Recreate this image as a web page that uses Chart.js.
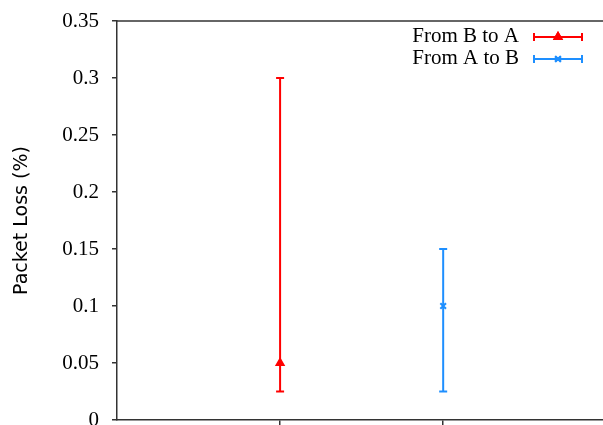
<!DOCTYPE html>
<html>
<head>
<meta charset="utf-8">
<script src="https://cdn.jsdelivr.net/npm/chart.js@4"></script>
<style>
  html, body { margin: 0; padding: 0; background: #fff; overflow: hidden; }
  canvas { display: block; }
</style>
</head>
<body>
<canvas id="lossChart" width="603" height="425"></canvas>
<script>
const categories = ["From B to A", "From A to B"];
const xPositions = [1, 2];
const meanLoss = [0.05, 0.1];
const minLoss = [0.025, 0.025];
const maxLoss = [0.3, 0.15];
const yTicks = [0, 0.05, 0.1, 0.15, 0.2, 0.25, 0.3, 0.35];
const colors = ["#ff0000", "#1e8fff"];
const markers = ["triangle", "crossRot"];

const axisColor = "#333";
const serif = "'Liberation Serif', 'Times New Roman', serif";

// one vertical line (with caps) + one marker per series
const datasets = [];
categories.forEach((name, i) => {
  datasets.push({
    label: name + " range",
    type: "line",
    data: [
      { x: xPositions[i], y: minLoss[i] },
      { x: xPositions[i], y: maxLoss[i] }
    ],
    borderColor: colors[i],
    borderWidth: 2,
    pointStyle: "line",
    pointRadius: 4,
    pointBorderWidth: 2,
    pointBorderColor: colors[i],
    pointHoverRadius: 4
  });
  datasets.push({
    label: name,
    type: "scatter",
    data: [{ x: xPositions[i], y: meanLoss[i] }],
    borderColor: colors[i],
    backgroundColor: colors[i],
    pointStyle: markers[i],
    pointRadius: 4,
    pointBorderWidth: 2
  });
});

// top frame line and legend in gnuplot style
const framePlugin = {
  id: "frame",
  afterDraw(chart) {
    const { ctx, chartArea } = chart;
    ctx.save();
    ctx.strokeStyle = axisColor;
    ctx.lineWidth = 1.5;
    ctx.beginPath();
    ctx.moveTo(chartArea.left, chartArea.top);
    ctx.lineTo(chart.width, chartArea.top);
    ctx.stroke();

    ctx.font = "21px " + serif;
    ctx.textAlign = "right";
    ctx.textBaseline = "middle";
    categories.forEach((name, i) => {
      const y = 37 + i * 22;
      ctx.fillStyle = "#000";
      ctx.fillText(name, 519, y - 1);
      ctx.strokeStyle = colors[i];
      ctx.lineWidth = 2;
      ctx.beginPath();
      ctx.moveTo(534, y);
      ctx.lineTo(582, y);
      ctx.moveTo(534, y - 4);
      ctx.lineTo(534, y + 4);
      ctx.moveTo(582, y - 4);
      ctx.lineTo(582, y + 4);
      ctx.stroke();
      Chart.helpers.drawPoint(ctx, {
        pointStyle: markers[i], radius: 4, borderWidth: 2
      }, 558, y);
      ctx.fillStyle = colors[i];
      ctx.fill();
      ctx.stroke();
    });
    ctx.restore();
  }
};

new Chart(document.getElementById("lossChart"), {
  type: "scatter",
  data: { datasets },
  options: {
    responsive: false,
    animation: false,
    layout: { autoPadding: false, padding: { top: 21, right: 0, bottom: 0, left: 0 } },
    plugins: {
      legend: { display: false },
      tooltip: { enabled: false }
    },
    scales: {
      x: {
        type: "linear",
        min: 0,
        max: 2.98,
        afterBuildTicks: (scale) => { scale.ticks = xPositions.map(v => ({ value: v })); },
        afterFit: (scale) => { scale.height = 5; },
        ticks: { display: false },
        grid: { drawOnChartArea: false, tickLength: 5, color: axisColor, lineWidth: 1.5 },
        border: { color: axisColor, width: 1.5 }
      },
      y: {
        min: 0,
        max: 0.35,
        afterBuildTicks: (scale) => { scale.ticks = yTicks.map(v => ({ value: v })); },
        afterFit: (scale) => {
          scale.width = 117;
          scale.paddingTop = 0;
          scale.paddingBottom = 0;
        },
        ticks: {
          color: "#000",
          font: { family: serif, size: 21 },
          padding: 13,
          callback: (v) => String(v)
        },
        grid: { drawOnChartArea: false, tickLength: 5, color: axisColor, lineWidth: 1.5 },
        border: { color: axisColor, width: 1.5 },
        title: {
          display: true,
          text: "Packet Loss (%)",
          color: "#000",
          font: { family: "'DejaVu Sans', sans-serif", size: 19 },
          padding: { top: 11, bottom: 0 }
        }
      }
    }
  },
  plugins: [framePlugin]
});
</script>
</body>
</html>
